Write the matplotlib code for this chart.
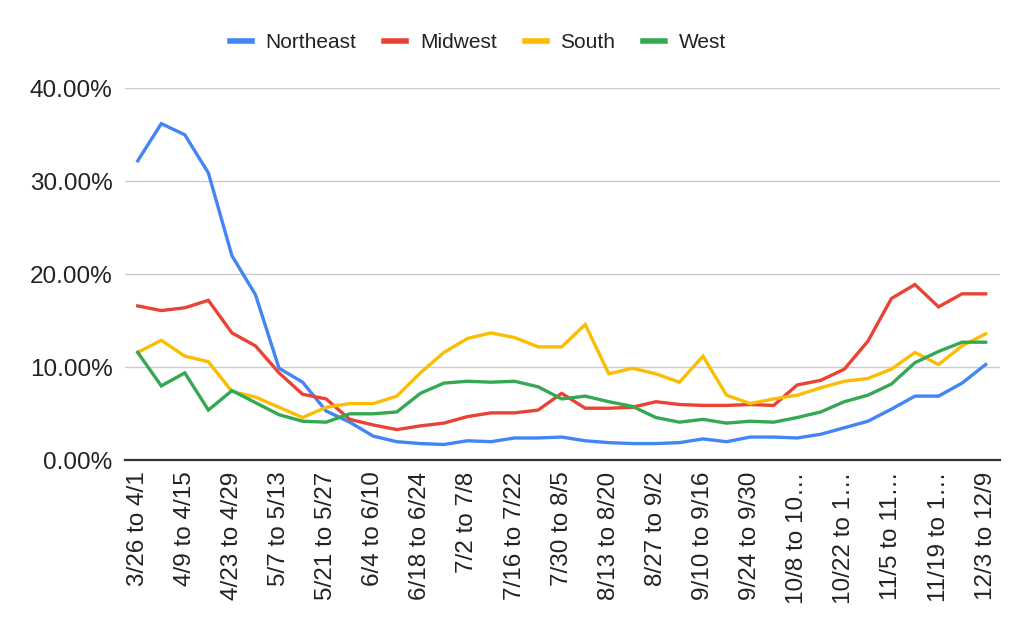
import matplotlib
matplotlib.use("Agg")
import matplotlib.pyplot as plt
from matplotlib.ticker import FuncFormatter

NE_BLUE = '#4285F4'
MW_RED = '#EA4335'
SO_YELLOW = '#FBBC04'
WE_GREEN = '#34A853'

weeks = [
    "3/26 to 4/1", "4/2 to 4/8", "4/9 to 4/15", "4/16 to 4/22", "4/23 to 4/29",
    "4/30 to 5/6", "5/7 to 5/13", "5/14 to 5/20", "5/21 to 5/27", "5/28 to 6/3",
    "6/4 to 6/10", "6/11 to 6/17", "6/18 to 6/24", "6/25 to 7/1", "7/2 to 7/8",
    "7/9 to 7/15", "7/16 to 7/22", "7/23 to 7/29", "7/30 to 8/5", "8/6 to 8/12",
    "8/13 to 8/20", "8/21 to 8/26", "8/27 to 9/2", "9/3 to 9/9", "9/10 to 9/16",
    "9/17 to 9/23", "9/24 to 9/30", "10/1 to 10/7", "10/8 to 10/14", "10/15 to 10/21",
    "10/22 to 10/28", "10/29 to 11/4", "11/5 to 11/11", "11/12 to 11/18",
    "11/19 to 11/25", "11/26 to 12/2", "12/3 to 12/9",
]

northeast = [32.2, 36.2, 35.0, 30.9, 22.0, 17.8, 9.9, 8.4, 5.3, 4.1, 2.6, 2.0, 1.8,
             1.7, 2.1, 2.0, 2.4, 2.4, 2.5, 2.1, 1.9, 1.8, 1.8, 1.9, 2.3, 2.0, 2.5,
             2.5, 2.4, 2.8, 3.5, 4.2, 5.5, 6.9, 6.9, 8.3, 10.3]
midwest = [16.6, 16.1, 16.4, 17.2, 13.7, 12.3, 9.4, 7.1, 6.6, 4.4, 3.8, 3.3, 3.7,
           4.0, 4.7, 5.1, 5.1, 5.4, 7.2, 5.6, 5.6, 5.7, 6.3, 6.0, 5.9, 5.9, 6.0,
           5.9, 8.1, 8.6, 9.8, 12.8, 17.4, 18.9, 16.5, 17.9, 17.9]
south = [11.6, 12.9, 11.2, 10.6, 7.4, 6.8, 5.7, 4.6, 5.7, 6.1, 6.1, 6.9, 9.4,
         11.6, 13.1, 13.7, 13.2, 12.2, 12.2, 14.6, 9.3, 9.9, 9.3, 8.4, 11.2, 7.0,
         6.1, 6.6, 7.0, 7.8, 8.5, 8.8, 9.8, 11.6, 10.3, 12.3, 13.6]
west = [11.6, 8.0, 9.4, 5.4, 7.5, 6.2, 4.9, 4.2, 4.1, 5.0, 5.0, 5.2, 7.2, 8.3,
        8.5, 8.4, 8.5, 7.9, 6.6, 6.9, 6.3, 5.8, 4.6, 4.1, 4.4, 4.0, 4.2, 4.1,
        4.6, 5.2, 6.3, 7.0, 8.2, 10.5, 11.7, 12.7, 12.7]

series = [("Northeast", northeast, NE_BLUE), ("Midwest", midwest, MW_RED),
          ("South", south, SO_YELLOW), ("West", west, WE_GREEN)]


def short_label(s):
    # long labels get cut off like in the sheet
    return s if len(s) <= 12 else s[:10] + "\u2026"


plt.rcParams['font.family'] = ['Liberation Sans', 'DejaVu Sans']

fig = plt.figure(figsize=(10.3, 6.38), dpi=100)
ax = fig.add_axes([125 / 1030, 1 - 460.3 / 638, 875 / 1030, (460.3 - 88.3) / 638])

x = list(range(len(weeks)))
for name, vals, col in series:
    ax.plot(x, vals, color=col, lw=2.4, label=name, solid_joinstyle='miter')

ax.set_ylim(0, 40)
ax.set_xlim(-0.54, len(weeks) - 1 + 0.61)
ax.set_yticks([0, 10, 20, 30, 40])
ax.yaxis.set_major_formatter(FuncFormatter(lambda v, p: f"{v:.2f}%"))
ax.set_xticks(x[::2])
ax.set_xticklabels([short_label(w) for w in weeks[::2]], rotation=90,
                   va='top', ha='center')

ax.grid(axis='y', color='#cccccc', lw=1)
ax.set_axisbelow(True)
for side in ['top', 'right', 'left']:
    ax.spines[side].set_visible(False)
ax.spines['bottom'].set_color('#333333')
ax.spines['bottom'].set_linewidth(1.6)
ax.spines['bottom'].set_zorder(5)
ax.tick_params(axis='both', length=0, labelsize=17.5, colors='#222222')
ax.tick_params(axis='y', pad=9)
ax.tick_params(axis='x', pad=8)

leg = fig.legend(loc='center', bbox_to_anchor=(478 / 1030, 1 - 43 / 638), ncol=4,
                 frameon=False, fontsize=15, handlelength=1.05, handletextpad=0.65,
                 columnspacing=1.35)
for h in leg.get_lines():
    h.set_linewidth(4)
for t in leg.get_texts():
    t.set_color('#222222')

fig.savefig("out.png", dpi=100)
